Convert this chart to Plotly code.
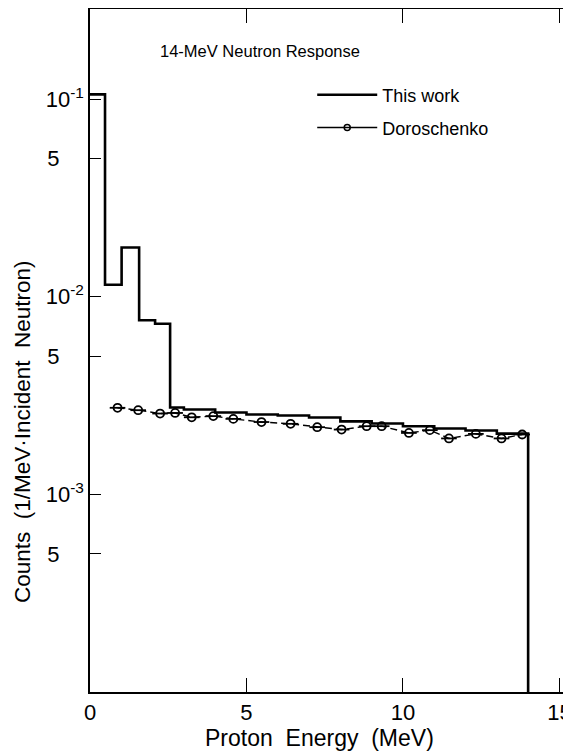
import plotly.graph_objects as go

# ---- data ----
# "This work": histogram bin left edges (MeV) and counts (1/MeV per incident neutron)
hist_edges = [0.0, 0.48, 1.01, 1.57, 2.08, 2.56, 3.0, 4.0, 5.0, 6.0, 7.0, 8.0,
              9.0, 10.0, 11.0, 12.0, 13.0, 14.0]
hist_counts = [0.1057, 0.0115, 0.01775, 0.0076, 0.0073, 2.75e-3, 2.69e-3, 2.595e-3,
               2.535e-3, 2.505e-3, 2.45e-3, 2.34e-3, 2.285e-3, 2.21e-3, 2.155e-3,
               2.105e-3, 2.03e-3]
hist_end_value = 1e-7  # zero counts above 14 MeV (below axis range)

# Doroschenko points
doro_e = [0.88, 1.54, 2.24, 2.72, 3.25, 3.94, 4.58, 5.48, 6.41, 7.26, 8.04, 8.84,
          9.32, 10.19, 10.86, 11.47, 12.33, 13.15, 13.81]
doro_c = [2.742e-3, 2.667e-3, 2.565e-3, 2.582e-3, 2.455e-3, 2.489e-3, 2.41e-3,
          2.323e-3, 2.275e-3, 2.188e-3, 2.128e-3, 2.213e-3, 2.213e-3, 2.046e-3,
          2.113e-3, 1.919e-3, 2.023e-3, 1.919e-3, 2.009e-3]
doro_de = [0.25] * len(doro_e)

x_tickvals = [0, 5, 10, 15]
x_ticktext = ["0", "5", "10", "15"]
y_tickvals = [1e-1, 5e-2, 1e-2, 5e-3, 1e-3, 5e-4]
NB = "\u00a0" * 4
y_ticktext = ["10<sup>-1</sup>", "5" + NB, "10<sup>-2</sup>",
              "5" + NB, "10<sup>-3</sup>", "5" + NB]

FONT = "Liberation Sans, Arial, sans-serif"

fig = go.Figure()

hx = hist_edges
hy = hist_counts + [hist_end_value]
fig.add_trace(go.Scatter(
    x=hx, y=hy, mode="lines", line=dict(color="black", width=2.6, shape="hv"),
    showlegend=False, hoverinfo="skip"))

fig.add_trace(go.Scatter(
    x=doro_e, y=doro_c, mode="lines+markers",
    line=dict(color="black", width=1.4, dash="7px,4px"),
    marker=dict(symbol="circle-open", size=8, color="black", line=dict(width=1.8)),
    error_x=dict(type="data", array=doro_de, color="black", thickness=1.8, width=0),
    showlegend=False))

# legend entries
fig.add_trace(go.Scatter(x=[None], y=[None], mode="lines", name="This work",
                         line=dict(color="black", width=2.6), legend="legend"))
fig.add_trace(go.Scatter(x=[None], y=[None], mode="lines+markers", name="Doroschenko",
                         line=dict(color="black", width=1.6),
                         marker=dict(symbol="circle-open", size=6, color="black",
                                     line=dict(width=1.5)),
                         legend="legend2"))

fig.add_annotation(text="14-MeV Neutron Response", xref="paper", yref="paper",
                   x=0.141, y=0.9385, xanchor="left", yanchor="middle",
                   showarrow=False, font=dict(family=FONT, size=16.5, color="black"))

fig.add_annotation(text="Proton  Energy  (MeV)", xref="paper", yref="paper",
                   x=0.478, y=-0.0673, xanchor="center", yanchor="middle",
                   showarrow=False, font=dict(family=FONT, size=23, color="black"))

fig.add_annotation(text="Counts  (1/MeV\u00b7Incident  Neutron)", xref="paper", yref="paper",
                   x=-0.1414, y=0.382, xanchor="center", yanchor="middle", textangle=-90,
                   showarrow=False, font=dict(family=FONT, size=22.5, color="black"))

fig.update_layout(
    width=563, height=748,
    margin=dict(l=82, r=0, t=1, b=64),
    plot_bgcolor="white", paper_bgcolor="white",
    font=dict(family=FONT, color="black"),
    legend=dict(x=0.462, y=0.874, xanchor="left", yanchor="middle",
                bgcolor="rgba(0,0,0,0)", font=dict(family=FONT, size=18),
                itemwidth=60),
    legend2=dict(x=0.462, y=0.826, xanchor="left", yanchor="middle",
                 bgcolor="rgba(0,0,0,0)", font=dict(family=FONT, size=18),
                 itemwidth=60),
    xaxis=dict(range=[0, 15.37], tickvals=x_tickvals, ticktext=x_ticktext,
               ticks="inside", ticklen=14, tickwidth=1.3, tickcolor="black",
               showline=True, linecolor="black", linewidth=1.5, mirror="ticks",
               showgrid=False, zeroline=False, automargin=False,
               ticklabeloverflow="allow",
               tickfont=dict(family=FONT, size=22)),
    yaxis=dict(type="log", range=[-4.0, -0.544], tickvals=y_tickvals, ticktext=y_ticktext,
               ticks="inside", ticklen=11, tickwidth=1.3, tickcolor="black",
               showline=True, linecolor="black", linewidth=1.5, mirror=False,
               showgrid=False, zeroline=False, automargin=False,
               tickfont=dict(family=FONT, size=22)),
    yaxis2=dict(type="log", range=[-4.0, -0.544], overlaying="y", side="right",
                tickvals=y_tickvals, ticks="inside", ticklen=8, tickwidth=1.5,
                tickcolor="black", showticklabels=False, showline=False,
                showgrid=False, zeroline=False, automargin=False),
)

fig.write_html("out.html")
